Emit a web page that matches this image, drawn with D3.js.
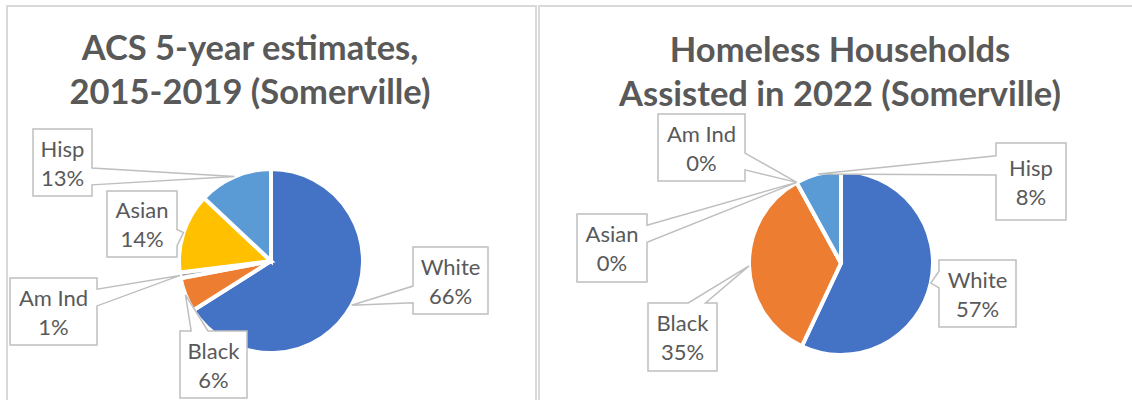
<!doctype html>
<html lang="en">
<head>
  <meta charset="UTF-8">
  <script src="https://cdn.jsdelivr.net/npm/d3@7/dist/d3.min.js"></script>
  <title>Somerville race / ethnicity</title>
  <style>
    body{ margin:0; background:#fff; }
    svg text{ font-family: Lato, "Open Sans", sans-serif; fill:#595959; }
    .title{ font-weight:700; font-size:34.5px; }
    .lbl{ font-size:22px; }
  </style>
</head>
<body>
  <div class="chart"></div>
  <script>
    // data
    const categories = ["White", "Black", "Am Ind", "Asian", "Hisp"];
    const acsValues = [66, 6, 1, 14, 13];
    const homelessValues = [57, 35, 0, 0, 8];
    const acsTitle = ["ACS 5-year estimates,", "2015-2019 (Somerville)"];
    const homelessTitle = ["Homeless Households", "Assisted in 2022 (Somerville)"];
    const colors = ["#4472C4", "#ED7D31", "#A5A5A5", "#FFC000", "#5B9BD5"];

    const W = 1132, H = 400;
    const svg = d3.select('.chart').append('svg').attr('width', W).attr('height', H);

    // chart frames
    svg.append('rect').attr('x', 7).attr('y', 6).attr('width', 529).attr('height', 440)
      .attr('fill', 'none').attr('stroke', '#d9d9d9').attr('stroke-width', 2);
    svg.append('rect').attr('x', 539).attr('y', 6).attr('width', 700).attr('height', 440)
      .attr('fill', 'none').attr('stroke', '#d9d9d9').attr('stroke-width', 2);

    // label boxes placed by hand, like excel: [x, y, w, h] in category order
    const charts = [
      { values: acsValues, title: acsTitle, tx: 250, ty: [60, 104], cx: 271, cy: 261, r: 92,
        boxes: [[413, 247, 75, 67], [180, 331, 67, 67], [10, 278, 87, 67], [107, 191, 70, 66], [33, 129, 59, 67]] },
      { values: homelessValues, title: homelessTitle, tx: 840, ty: [62, 106], cx: 841, cy: 263, r: 92,
        boxes: [[939, 260, 77, 67], [648, 303, 69, 68], [658, 114, 87, 67], [577, 214, 70, 68], [996, 143, 70, 77]] }
    ];

    const color = d3.scaleOrdinal().domain(categories).range(colors);

    // excel wedgeRectCallout outline
    function callout(b, tip) {
      const [l, t, w, h] = b, r = l + w, bt = t + h;
      const dx = tip[0] - (l + w / 2), dy = tip[1] - (t + h / 2);
      const dq = dx * h / w;
      const p = [];
      if (Math.abs(dy) > Math.abs(dq)) {
        const x1 = l + w * (dx > 0 ? 7 : 2) / 12, x2 = l + w * (dx > 0 ? 10 : 5) / 12;
        if (dy < 0) p.push([l, t], [x1, t], tip, [x2, t], [r, t], [r, bt], [l, bt]);
        else p.push([l, t], [r, t], [r, bt], [x2, bt], tip, [x1, bt], [l, bt]);
      } else {
        const y1 = t + h * (dy > 0 ? 7 : 2) / 12, y2 = t + h * (dy > 0 ? 10 : 5) / 12;
        if (dx > 0) p.push([l, t], [r, t], [r, y1], tip, [r, y2], [r, bt], [l, bt]);
        else p.push([l, t], [r, t], [r, bt], [l, bt], [l, y2], tip, [l, y1]);
      }
      return 'M' + p.map(d => d.join(',')).join('L') + 'Z';
    }

    charts.forEach(c => {
      const g = svg.append('g');
      g.selectAll('text.title').data(c.title).enter().append('text')
        .attr('class', 'title').attr('x', c.tx).attr('y', (d, i) => c.ty[i])
        .attr('text-anchor', 'middle').text(d => d);

      const pie = d3.pie().sort(null).value(d => d.v);
      const arcs = pie(categories.map((k, i) => ({ k: k, v: c.values[i] })));
      const arc = d3.arc().innerRadius(0).outerRadius(c.r);
      const total = d3.sum(c.values);

      const pg = g.append('g').attr('transform', `translate(${c.cx},${c.cy})`);
      pg.selectAll('path').data(arcs).enter().append('path')
        .attr('d', arc).attr('fill', d => color(d.data.k))
        .attr('stroke', '#fff').attr('stroke-width', 4).attr('stroke-linejoin', 'miter');

      arcs.forEach((d, i) => {
        const a = (d.startAngle + d.endAngle) / 2;
        const tip = [c.cx + c.r * Math.sin(a), c.cy - c.r * Math.cos(a)];
        const b = c.boxes[i];
        g.append('path').attr('d', callout(b, tip))
          .attr('fill', '#fff').attr('stroke', '#bfbfbf').attr('stroke-width', 1.5);
        const mx = b[0] + b[2] / 2, my = b[1] + b[3] / 2;
        const pct = Math.round(d.data.v / total * 100) + '%';
        g.append('text').attr('class', 'lbl').attr('x', mx).attr('y', my - 6)
          .attr('text-anchor', 'middle').text(d.data.k);
        g.append('text').attr('class', 'lbl').attr('x', mx).attr('y', my + 23)
          .attr('text-anchor', 'middle').text(pct);
      });
    });
  </script>
</body>
</html>
